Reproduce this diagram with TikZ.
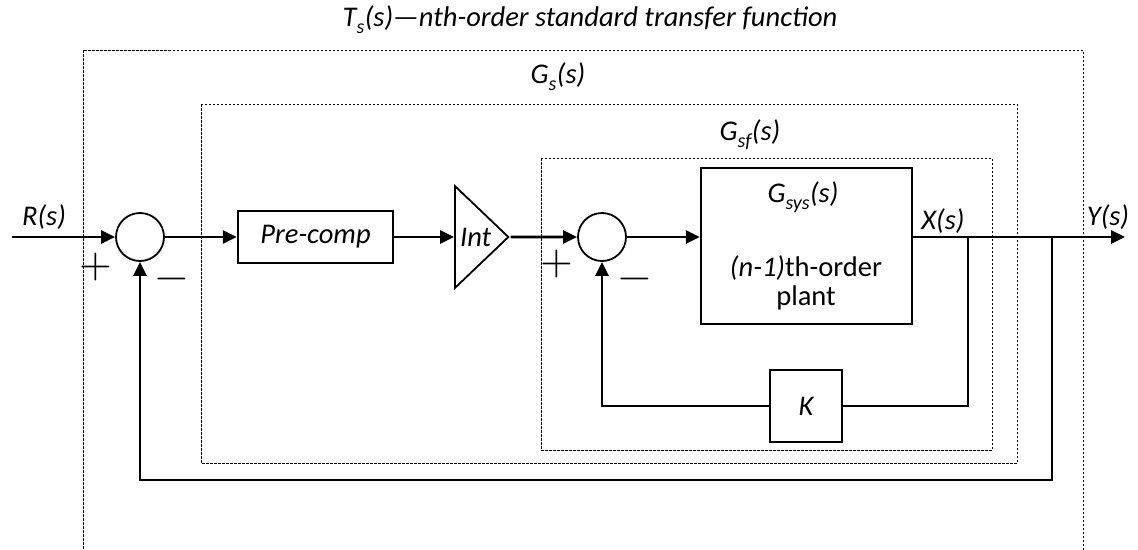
\documentclass[tikz,border=0pt]{standalone}
\usepackage{fontspec}
\usepackage{unicode-math}
\setmainfont{Carlito}
\usetikzlibrary{arrows.meta}
\usetikzlibrary{shapes.geometric}

\begin{document}
\begin{tikzpicture}[x=1pt, y=-1pt, line width=2.8pt,
  >={Triangle[length=14pt,width=13pt]},
  font=\fontsize{28.5}{33}\selectfont\itshape,
  sumnode/.style={circle, draw, line width=1.8pt, minimum size=48pt, inner sep=0pt},
  blocknode/.style={rectangle, draw, line width=2.2pt, inner sep=0pt},
  intnode/.style={isosceles triangle, isosceles triangle stretches, draw, line width=1.8pt,
    minimum width=102pt, minimum height=51pt, inner sep=0pt},
  frame/.style={dash pattern=on 2.5pt off 1.5pt, line width=0.9pt},
  sign/.style={font=\fontsize{42}{44}\selectfont}]
  \useasboundingbox (0,0) rectangle (1138,549);
  \clip (0,0) rectangle (1138,549);
  % dotted frames
  \draw[frame] (83,50) rectangle (1083,600);
  \draw[frame] (201,104) rectangle (1017,463);
  \draw[frame] (541,158) rectangle (992,450);
  \node (ttitle) at (590,20) {T\textsubscript{s}(s)—nth-order standard transfer function};
  \node (gslabel) at (558,77) {G\textsubscript{s}(s)};
  \node (gsflabel) at (750,135) {G\textsubscript{sf}(s)};
  % blocks
  \node[sumnode] (sum1) at (140,237) {};
  \node[blocknode, minimum width=155pt, minimum height=52pt] (precomp) at (315.5,237) {Pre-comp};
  \node[intnode, anchor=west] (int) at (454,237) {Int};
  \node[sumnode] (sum2) at (602,237) {};
  \node[blocknode, minimum width=211pt, minimum height=156pt] (plant) at (806.5,246) {};
  \node[blocknode, minimum size=72pt] (gain) at (806,406) {K};
  \node (gsyslabel) at (803,197) {G\textsubscript{sys}(s)};
  \node (order) at (806,268) {(n-1)\upshape th-order};
  \node (plantlabel) at (806,298) {\upshape plant};
  \node (rlabel) at (44,217) {R(s)};
  \node (xlabel) at (943,221) {X(s)};
  \node (ylabel) at (1108,217) {Y(s)};
  \node[sign] (plus1) at (96,267) {$+$};
  \node[sign] (minus1) at (172,284) {$-$};
  \node[sign] (plus2) at (557,264) {$+$};
  \node[sign] (minus2) at (635,284) {$-$};
  \coordinate (rin) at (12,237);
  \coordinate (xtap) at (968,237);
  \coordinate (ytap) at (1052,237);
  \coordinate (yout) at (1125,237);
  \coordinate (ybot) at (1052,480);
  \foreach \from/\to in {rin/sum1.west, sum1.east/precomp.west, precomp.east/int.west, int.east/sum2.west}
   \draw[->] (\from) -- (\to);
  \draw[->] (sum2.east) -- (sum2.east -| plant.west);
  \draw[->] (sum2.east -| plant.east) -- (yout);
  % feedback loops
  \draw (xtap) |- (gain.east);
  \draw[->] (gain.west) -| (sum2.south);
  \draw[->] (ytap) -- (ybot) -| (sum1.south);
\end{tikzpicture}
\end{document}
